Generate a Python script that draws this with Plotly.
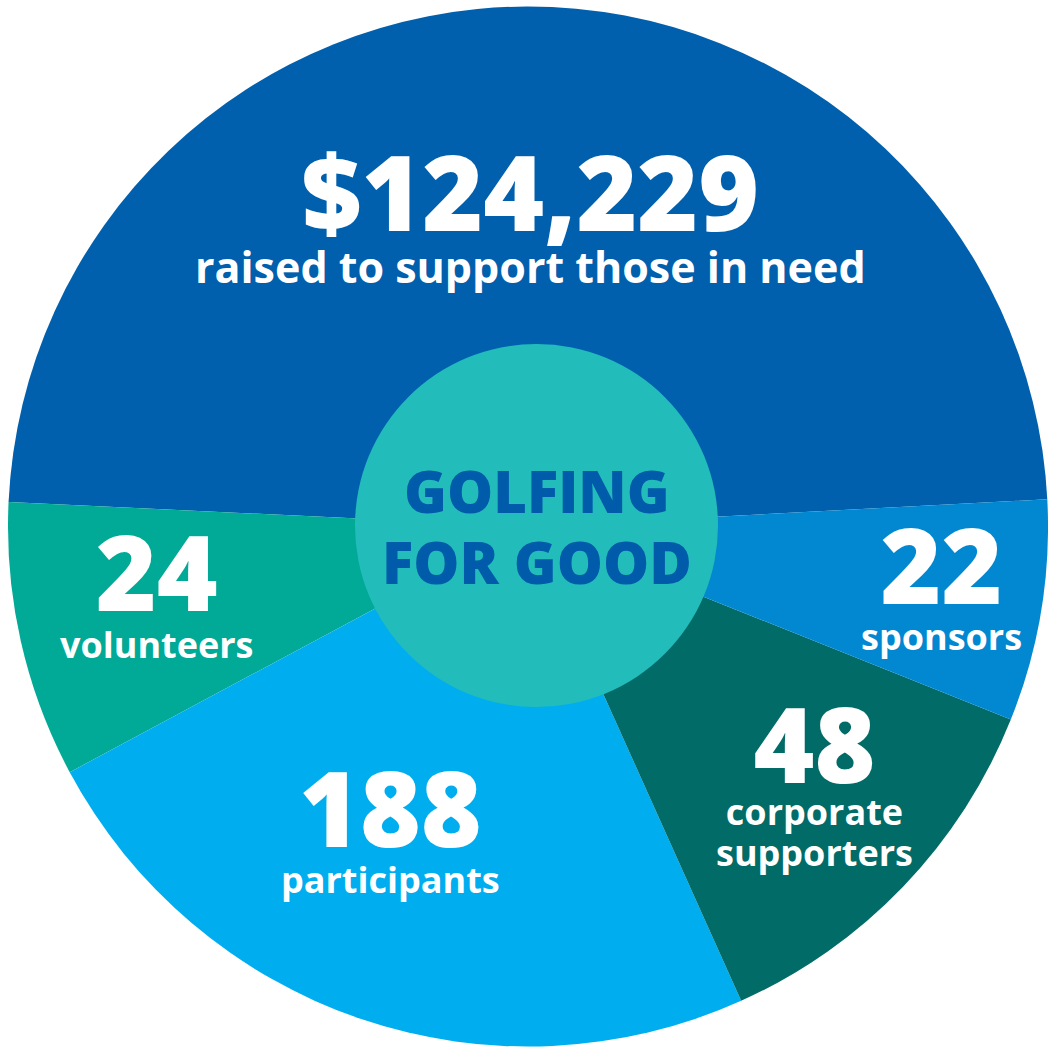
import plotly.graph_objects as go

# ---- data ----
slice_names = ["raised", "volunteers", "participants", "corporate supporters", "sponsors"]
slice_share_deg = [174.3, 30.9, 86.0, 44.0, 24.8]   # slice angular sizes
figures = ["$124,229", "24", "188", "48", "22"]
captions = [["raised to support those in need"], ["volunteers"], ["participants"],
            ["corporate", "supporters"], ["sponsors"]]
center_title = ["GOLFING", "FOR GOOD"]

colors = ["#0060AD", "#00AA96", "#00AEEF", "#016B68", "#0288D1"]

W, H = 1048, 1053


def px(x):
    return x / W


def py(y):
    return 1 - y / H


# counterclockwise pie: the first slice ends (ccw) at the rotation point
fig = go.Figure(go.Pie(
    labels=slice_names,
    values=slice_share_deg,
    sort=False,
    direction="counterclockwise",
    rotation=-87.3,
    marker=dict(colors=colors, line=dict(width=0)),
    textinfo="none",
    hoverinfo="skip",
    showlegend=False,
    domain=dict(x=[px(8), 1], y=[0, 1]),
))

# center disc
fig.add_shape(type="circle", xref="paper", yref="paper",
              x0=px(355), x1=px(718), y0=py(707), y1=py(344),
              fillcolor="#22BCBB", line=dict(width=0), layer="above")

FONT = "Open Sans"
label_pos = [(530, 208), (156, 584), (390, 820), (814, 774), (941, 577)]
line_gap_size = [40, 36, 35, 32, 35]   # base font size, sets the line spacing
num_size = 104
cap_size = [43, 36, 36, 36, 36]

annotations = []
for i in range(len(figures)):
    parts = [f"<span style='font-size:{num_size}px;font-weight:800'>{figures[i]}</span>"]
    parts += [f"<span style='font-size:{cap_size[i]}px'>{c}</span>" for c in captions[i]]
    annotations.append(dict(
        x=px(label_pos[i][0]), y=py(label_pos[i][1]), xref="paper", yref="paper",
        text="<br>".join(parts), showarrow=False, xanchor="center", yanchor="middle",
        align="center",
        font=dict(family=FONT, size=line_gap_size[i], color="white", weight=700)))

title_pos = [(537, 490), (537, 561)]
for t, (x, y) in zip(center_title, title_pos):
    annotations.append(dict(
        x=px(x), y=py(y), xref="paper", yref="paper",
        text=t, showarrow=False, xanchor="center", yanchor="middle",
        font=dict(family=FONT, size=58, color="#005BAA", weight=800)))

fig.update_layout(
    width=W, height=H,
    margin=dict(l=0, r=0, t=0, b=0),
    paper_bgcolor="white", plot_bgcolor="white",
    annotations=annotations,
)

fig.write_html("out.html", config={"displayModeBar": False},
               post_script="document.body.style.margin='0px';")
